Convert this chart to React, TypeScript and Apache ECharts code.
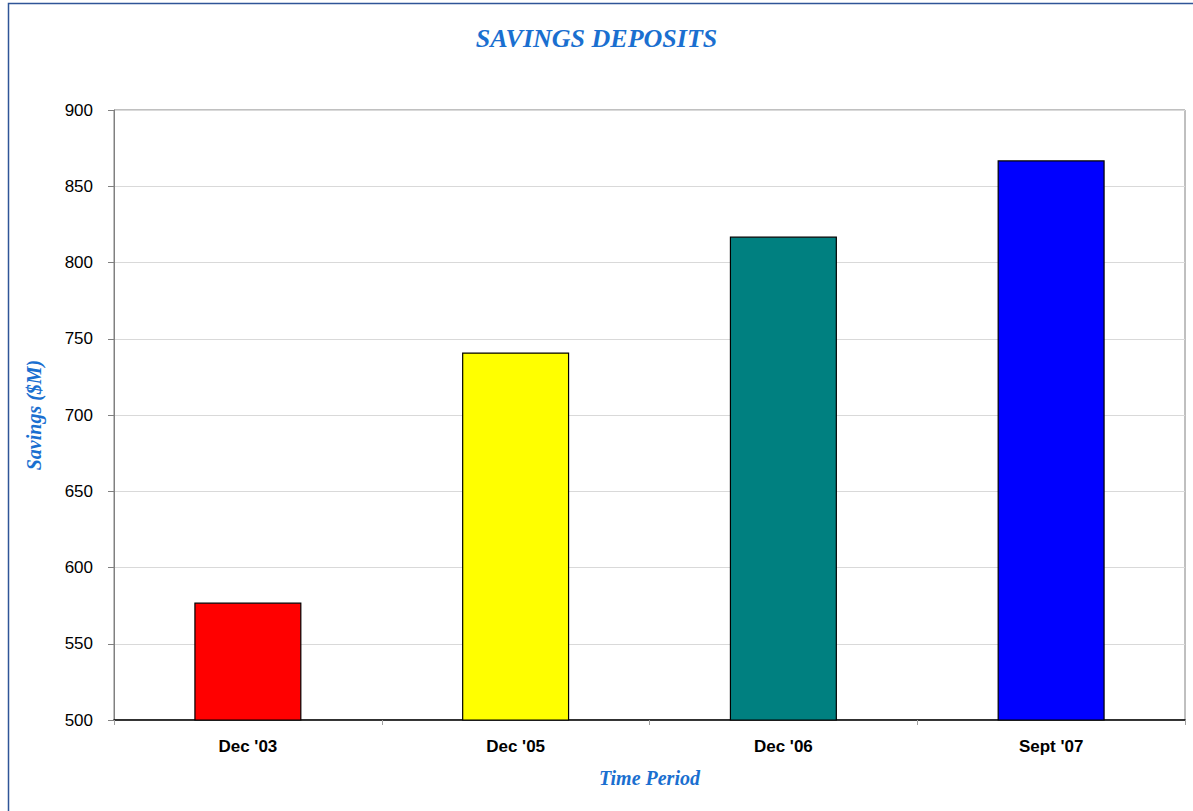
import React, { useEffect, useRef } from "react";
import * as echarts from "echarts";

const categories = ["Dec '03", "Dec '05", "Dec '06", "Sept '07"];
const savings = [577, 741, 817, 867];
const barColors = ["#ff0000", "#ffff00", "#008080", "#0000ff"];

export default function App() {
  const ref = useRef<HTMLDivElement>(null);
  useEffect(() => {
    if (!ref.current) return;
    const chart = echarts.init(ref.current, null, { renderer: "svg" });
    const serifFont = "'Liberation Serif', 'DejaVu Serif', serif";
    chart.setOption({
      animation: false,
      backgroundColor: "#ffffff",
      title: {
        text: "SAVINGS DEPOSITS",
        left: "center",
        top: 20,
        textStyle: {
          fontFamily: serifFont,
          fontStyle: "italic",
          fontWeight: "bold",
          fontSize: 26,
          color: "#1a6fd0",
        },
      },
      graphic: [
        {
          type: "rect",
          shape: { x: 8.5, y: 3.5, width: 1220, height: 840 },
          style: { fill: "none", stroke: "#2f5597", lineWidth: 1.5 },
          silent: true,
        },
      ],
      grid: {
        left: 114,
        top: 110,
        right: 8,
        bottom: 91,
        show: true,
        borderColor: "#808080",
        borderWidth: 1,
        backgroundColor: "transparent",
      },
      xAxis: {
        type: "category",
        data: categories,
        name: "Time Period",
        nameLocation: "middle",
        nameGap: 48,
        nameTextStyle: {
          fontFamily: serifFont,
          fontStyle: "italic",
          fontWeight: "bold",
          fontSize: 20,
          color: "#1a6fd0",
        },
        axisLine: { lineStyle: { color: "#000000", width: 1.5 } },
        axisTick: { show: true, length: 5, lineStyle: { color: "#a0a0a0" } },
        axisLabel: {
          margin: 18,
          fontFamily: "'Liberation Sans', Arial, sans-serif",
          fontWeight: "bold",
          fontSize: 17,
          color: "#000000",
        },
      },
      yAxis: {
        type: "value",
        min: 500,
        max: 900,
        interval: 50,
        name: "Savings ($M)",
        nameLocation: "middle",
        nameGap: 70,
        nameTextStyle: {
          fontFamily: serifFont,
          fontStyle: "italic",
          fontWeight: "bold",
          fontSize: 20,
          color: "#1a6fd0",
        },
        axisLine: { show: true, lineStyle: { color: "#808080", width: 1 } },
        axisTick: { show: true, length: 6, lineStyle: { color: "#808080" } },
        axisLabel: {
          margin: 21,
          fontFamily: "'Liberation Sans', Arial, sans-serif",
          fontSize: 17,
          color: "#000000",
        },
        splitLine: { show: true, lineStyle: { color: "#d9d9d9", width: 1 } },
      },
      series: [
        {
          type: "bar",
          barWidth: "40%",
          data: savings.map((v, i) => ({
            value: v,
            itemStyle: { color: barColors[i] },
          })),
          itemStyle: { borderColor: "#000000", borderWidth: 1.2 },
        },
      ],
    });
    return () => chart.dispose();
  }, []);
  return (
    <div
      ref={ref}
      style={{ position: "fixed", left: 0, top: 0, width: 1193, height: 811 }}
    />
  );
}
